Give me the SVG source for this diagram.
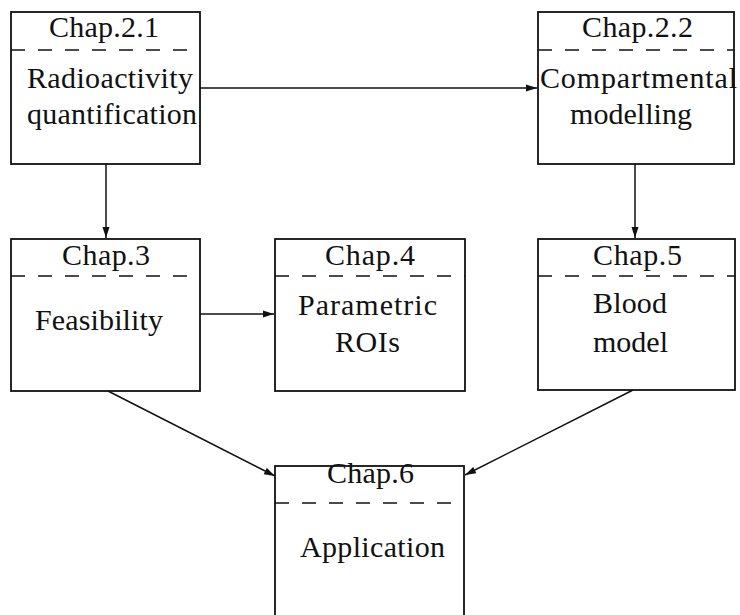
<svg xmlns="http://www.w3.org/2000/svg" width="740" height="615" viewBox="0 0 740 615">
<defs>
<style>
.box{fill:#fff;stroke:#111;stroke-width:1.8}
.sep{stroke:#111;stroke-width:1.6;stroke-dasharray:14 13;fill:none}
.t{font-family:"Liberation Serif","Times New Roman",serif;font-size:30px;fill:#111}
.c{stroke:#111;stroke-width:1.5;fill:none;marker-end:url(#ah)}
</style>
<marker id="ah" markerUnits="userSpaceOnUse" markerWidth="12" markerHeight="8" refX="11" refY="4" orient="auto">
<path d="M0,0.5 L11,4 L0,7.5 Z" fill="#111"/>
</marker>
</defs>
<rect width="740" height="615" fill="#fff"/>
<g id="connectors">
<line class="c" x1="200" y1="88" x2="537" y2="88"/>
<line class="c" x1="106" y1="164" x2="106" y2="238"/>
<line class="c" x1="635" y1="164" x2="635" y2="238"/>
<line class="c" x1="200" y1="314" x2="274" y2="314"/>
<line class="c" x1="108" y1="391" x2="275" y2="476"/>
<line class="c" x1="633" y1="390" x2="465" y2="475"/>
</g>
<g id="chap21">
<rect class="box" x="11" y="12" width="189" height="152"/>
<line class="sep" x1="11" y1="50" x2="200" y2="50"/>
<text class="t" x="49" y="37" textLength="110">Chap.2.1</text>
<text class="t" x="27" y="88" textLength="166">Radioactivity</text>
<text class="t" x="27" y="124" textLength="170">quantification</text>
</g>
<g id="chap22">
<rect class="box" x="538" y="12" width="196" height="152"/>
<line class="sep" x1="538" y1="50" x2="734" y2="50"/>
<text class="t" x="582" y="37" textLength="111">Chap.2.2</text>
<text class="t" x="540" y="88" textLength="197">Compartmental</text>
<text class="t" x="570" y="124" textLength="122">modelling</text>
</g>
<g id="chap3">
<rect class="box" x="11" y="239" width="189" height="152"/>
<line class="sep" x1="11" y1="276" x2="200" y2="276"/>
<text class="t" x="62" y="265" textLength="88">Chap.3</text>
<text class="t" x="35" y="330" textLength="128">Feasibility</text>
</g>
<g id="chap4">
<rect class="box" x="275" y="239" width="190" height="152"/>
<line class="sep" x1="275" y1="276" x2="465" y2="276"/>
<text class="t" x="325" y="265" textLength="90">Chap.4</text>
<text class="t" x="298" y="315" textLength="139">Parametric</text>
<text class="t" x="335" y="352" textLength="65">ROIs</text>
</g>
<g id="chap5">
<rect class="box" x="538" y="239" width="197" height="151"/>
<line class="sep" x1="538" y1="276" x2="735" y2="276"/>
<text class="t" x="593" y="265" textLength="89">Chap.5</text>
<text class="t" x="593" y="313" textLength="74">Blood</text>
<text class="t" x="593" y="352" textLength="75">model</text>
</g>
<g id="chap6">
<rect class="box" x="275" y="466" width="189" height="200"/>
<line class="sep" x1="275" y1="503" x2="464" y2="503"/>
<text class="t" x="327" y="483" textLength="87">Chap.6</text>
<text class="t" x="300" y="557" textLength="145">Application</text>
</g>
</svg>
